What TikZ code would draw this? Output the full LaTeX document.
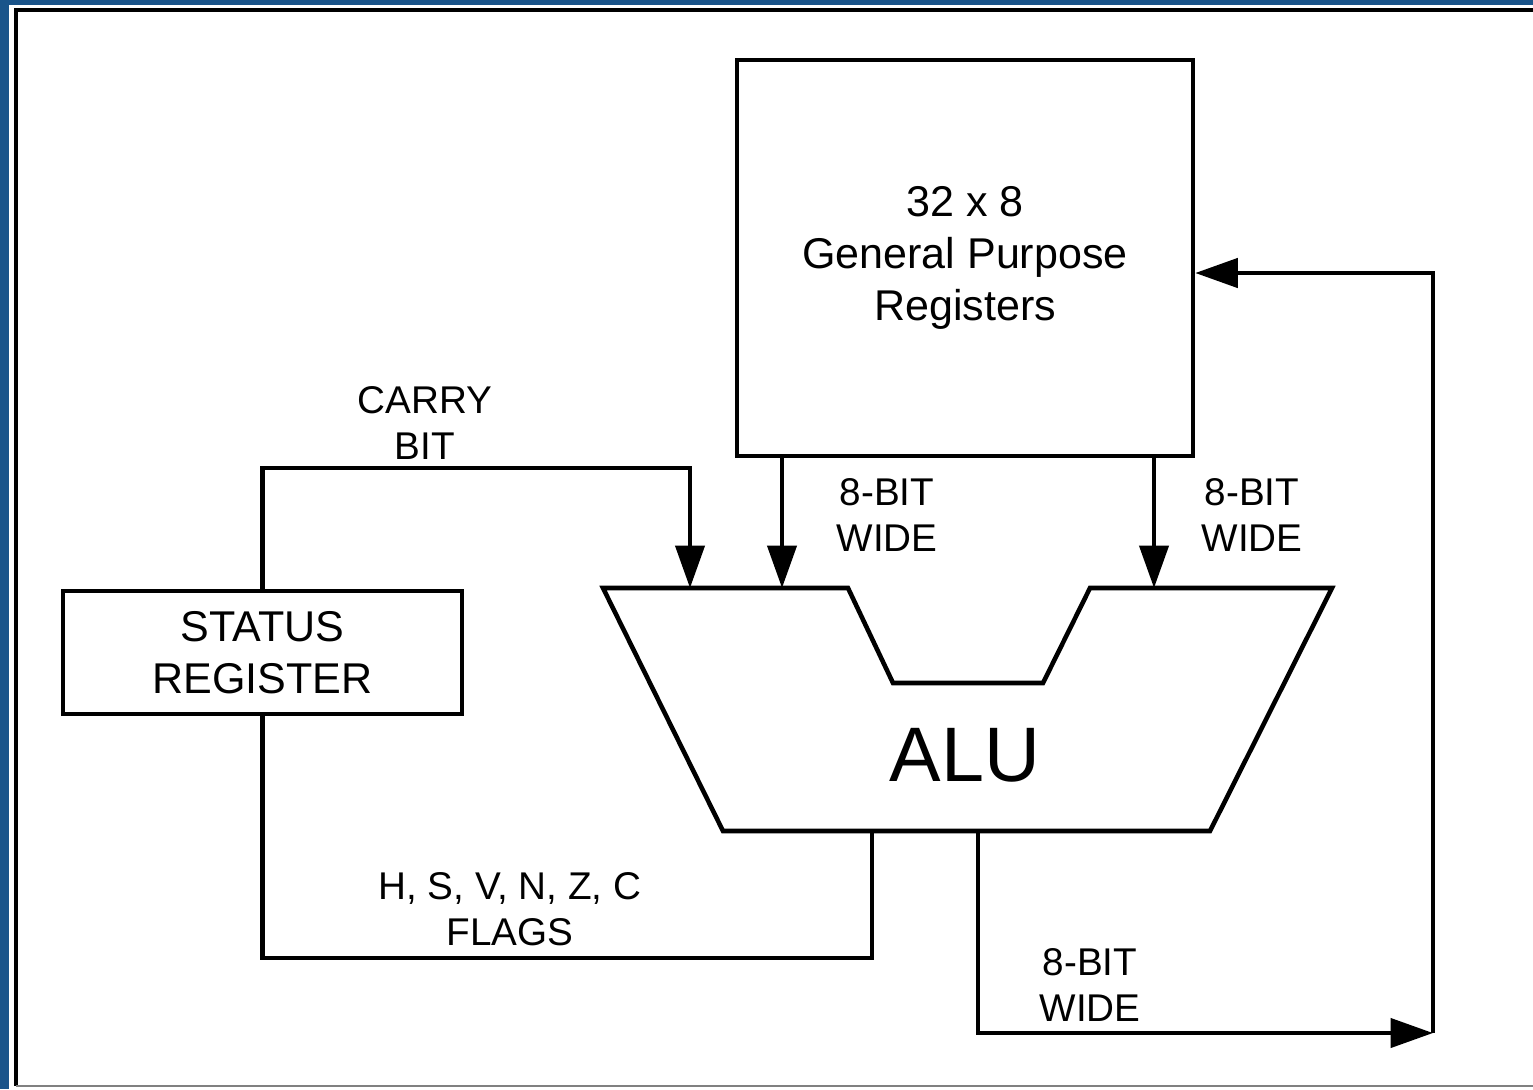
\documentclass[tikz,border=0pt]{standalone}
\usepackage{fontspec}
\setmainfont{Liberation Sans}
\usetikzlibrary{arrows.meta}
\definecolor{framebg}{RGB}{26,84,138}

\begin{document}
\begin{tikzpicture}[
    x=0.02cm, y=-0.02cm, line width=2.5pt,
    box/.style={rectangle, draw, line width=2.6pt, align=center, font=\fontsize{24.5}{29.5}\selectfont},
    lbl/.style={align=center, font=\fontsize{22}{26}\selectfont},
    flow/.style={-{Triangle[length=0.85cm, width=0.58cm]}}
]
\useasboundingbox (0,0) rectangle (1533,1089);

% Frame
\fill[framebg] (0,0) rectangle (1533,1089);
\fill[white] (9,5) rectangle (1533,1089);
\draw[line width=2.6pt] (1533,10) -- (16,10) -- (16,1086);
\draw[line width=1.2pt, gray] (16,1086) -- (1533,1086);

% Registers
\node[box, minimum width=9.12cm, minimum height=7.92cm] (gpr) at (965,258) {32 x 8\\General Purpose\\Registers};
\node[box, minimum width=7.98cm, minimum height=2.46cm] (status) at (262.5,652.5) {STATUS\\REGISTER};

% ALU
\draw[line width=2.6pt] (603,588) -- (848,588) -- (893,683) -- (1043,683) -- (1090,588)
    -- (1332,588) -- (1210,831) -- (723,831) -- cycle;
\node[font=\fontsize{44}{50}\selectfont] (alu) at (965,755) {ALU};
\coordinate (carryin) at (690,588);
\coordinate (ina) at (782,588);
\coordinate (inb) at (1154,588);
\coordinate (flagout) at (872,831);
\coordinate (resout) at (978,831);

% Corners
\coordinate (carrytop) at (690,468);
\coordinate (flagcorner) at (872,958);
\coordinate (rescorner) at (1433,1033);
\coordinate (feedback) at (1433,273);

% Connections
\draw[flow] (status.north) |- (carrytop) -- (carryin);
\draw[flow] (gpr.south -| ina) -- (ina);
\draw[flow] (gpr.south -| inb) -- (inb);
\draw (flagout) -- (flagcorner) -| (status.south);
\draw[flow] (resout) |- (rescorner);
\draw[flow] (rescorner) -- (feedback) -- (gpr.east |- feedback);

% Labels
\node[lbl] (carrylbl) at (425,423) {CARRY\\BIT};
\node[lbl] (widea) at (887,515) {8-BIT\\WIDE};
\node[lbl] (wideb) at (1252,515) {8-BIT\\WIDE};
\node[lbl] (flagslbl) at (510,909) {H, S, V, N, Z, C\\FLAGS};
\node[lbl] (widec) at (1090,985) {8-BIT\\WIDE};
\end{tikzpicture}
\end{document}
